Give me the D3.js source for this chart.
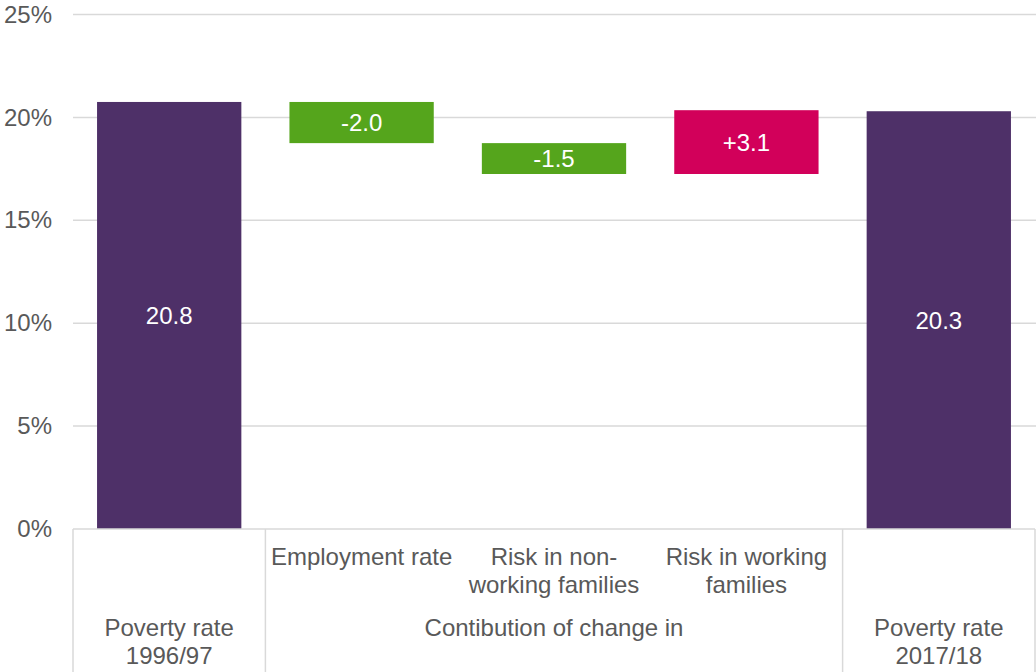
<!DOCTYPE html>
<html lang="en">
<head>
    <meta charset="UTF-8">
    <title>Poverty rate waterfall</title>
    <style>
        body { margin: 0; background: #fff; }
        svg text { font-family: "Liberation Sans", Arial, sans-serif; }
    </style>
</head>
<body>
    <script src="https://d3js.org/d3.v7.min.js"></script>
    <script>
        // data
        const categories = ['start', 'employment', 'nonworking', 'working', 'end'];
        const steps = [20.75, -2.0, -1.5, 3.1, 20.3];
        const kinds = ['total', 'change', 'change', 'change', 'total'];
        const subLabels = [[], ['Employment rate'], ['Risk in non-', 'working families'], ['Risk in working', 'families'], []];
        const groupLabels = [
            {from: 0, to: 0, lines: ['Poverty rate', '1996/97']},
            {from: 1, to: 3, lines: ['Contibution of change in']},
            {from: 4, to: 4, lines: ['Poverty rate', '2017/18']}
        ];
        const yTicks = [0, 5, 10, 15, 20, 25];

        const w = 1036, h = 672;
        const padLeft = 73, padRight = 1035, padTop = 14.5, axisY = 529;
        const textColor = '#595959';
        const lineColor = '#d9d9d9';
        const fontSize = 24;

        // running totals for the floating bars
        let running = 0;
        const bars = categories.map((c, i) => {
            let y0, y1;
            if (kinds[i] === 'total') {
                y0 = 0; y1 = steps[i]; running = steps[i];
            } else {
                y0 = running; y1 = running + steps[i]; running = y1;
            }
            let fill = '#4e3068';
            if (kinds[i] === 'change') fill = steps[i] < 0 ? '#55a51c' : '#d2005a';
            let label = kinds[i] === 'total' ? steps[i].toFixed(1)
                : (steps[i] > 0 ? '+' : '') + steps[i].toFixed(1);
            return {cat: c, lo: Math.min(y0, y1), hi: Math.max(y0, y1), fill: fill, label: label};
        });

        const svg = d3.select('body').append('svg')
            .attr('width', w).attr('height', h);

        const x = d3.scaleBand().domain(categories).range([padLeft, padRight])
            .paddingInner(0.25).paddingOuter(0.125);
        const y = d3.scaleLinear().domain([0, 25]).range([axisY, padTop]);

        // gridlines
        svg.append('g').selectAll('line').data(yTicks.slice(1)).enter().append('line')
            .attr('x1', padLeft).attr('x2', w)
            .attr('y1', d => y(d)).attr('y2', d => y(d))
            .attr('stroke', lineColor).attr('stroke-width', 1.5);

        // y axis labels
        const yAxis = d3.axisLeft(y).tickValues(yTicks).tickFormat(d => d + '%').tickSize(0).tickPadding(21);
        const ya = svg.append('g').attr('transform', 'translate(' + padLeft + ',0)').call(yAxis);
        ya.select('.domain').remove();
        ya.selectAll('text').attr('font-size', fontSize).attr('fill', textColor)
            .attr('font-family', '"Liberation Sans", Arial, sans-serif');

        // bars
        svg.append('g').selectAll('rect').data(bars).enter().append('rect')
            .attr('x', d => x(d.cat))
            .attr('width', x.bandwidth())
            .attr('y', d => y(d.hi))
            .attr('height', d => y(d.lo) - y(d.hi))
            .attr('fill', d => d.fill);

        svg.append('g').selectAll('text').data(bars).enter().append('text')
            .attr('x', d => x(d.cat) + x.bandwidth() / 2)
            .attr('y', d => (y(d.lo) + y(d.hi)) / 2)
            .attr('dy', '0.36em')
            .attr('text-anchor', 'middle')
            .attr('font-size', fontSize)
            .attr('fill', '#fff')
            .text(d => d.label);

        // multi-level category axis
        const step = x.step();
        const edge = i => padLeft + i * step;
        const axis = svg.append('g');
        axis.append('line')
            .attr('x1', padLeft).attr('x2', padRight)
            .attr('y1', axisY).attr('y2', axisY)
            .attr('stroke', lineColor).attr('stroke-width', 1.5);
        const seps = [0, 1, 4, 5];
        axis.selectAll('.sep').data(seps).enter().append('line')
            .attr('x1', d => edge(d)).attr('x2', d => edge(d))
            .attr('y1', axisY).attr('y2', h)
            .attr('stroke', lineColor).attr('stroke-width', 1.5);

        categories.forEach((c, i) => {
            const t = axis.append('text')
                .attr('text-anchor', 'middle')
                .attr('font-size', fontSize)
                .attr('fill', textColor);
            subLabels[i].forEach((line, j) => {
                t.append('tspan')
                    .attr('x', x(c) + x.bandwidth() / 2)
                    .attr('y', 565 + j * 28)
                    .text(line);
            });
        });

        groupLabels.forEach(g => {
            const cx = (edge(g.from) + edge(g.to + 1)) / 2;
            const t = axis.append('text')
                .attr('text-anchor', 'middle')
                .attr('font-size', fontSize)
                .attr('fill', textColor);
            g.lines.forEach((line, j) => {
                t.append('tspan').attr('x', cx).attr('y', 636 + j * 28).text(line);
            });
        });
    </script>
</body>
</html>
